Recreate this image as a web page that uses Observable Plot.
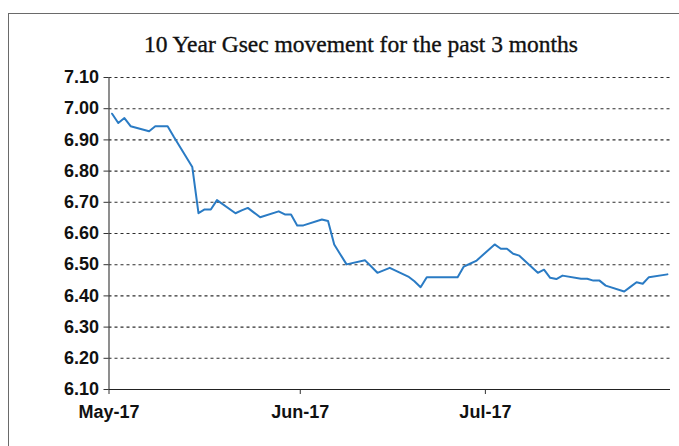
<!DOCTYPE html>
<html>
<head>
<meta charset="utf-8">
<script src="https://cdn.jsdelivr.net/npm/d3@7"></script>
<script src="https://cdn.jsdelivr.net/npm/@observablehq/plot@0.6"></script>
<style>
  html, body { margin: 0; padding: 0; background: #fff; overflow: hidden; }
  #wrap { position: relative; width: 679px; height: 446px; overflow: hidden; background: #fff; }
  #frame { position: absolute; left: 8px; top: 13px; width: 800px; height: 600px;
           border-top: 1px solid #6a6a6a; border-left: 1px solid #6a6a6a; }
  #title { position: absolute; left: 0; width: 722px; top: 33px; text-align: center;
           font-family: "Liberation Serif", "DejaVu Serif", serif; font-size: 23.5px; line-height: 23px;
           color: #111; font-weight: normal; -webkit-text-stroke: 0.35px #111; }
  #chart { position: absolute; left: 0; top: 0; }
</style>
</head>
<body>
<div id="wrap">
  <div id="frame"></div>
  <div id="chart"></div>
  <div id="title">10 Year Gsec movement for the past 3 months</div>
</div>
<script>
// ---- data ----
const dates = [
  "2017-05-02","2017-05-03","2017-05-04","2017-05-05","2017-05-08","2017-05-09","2017-05-10","2017-05-11","2017-05-12",
  "2017-05-15","2017-05-16","2017-05-17","2017-05-18","2017-05-19","2017-05-22","2017-05-23","2017-05-24","2017-05-25","2017-05-26",
  "2017-05-29","2017-05-30","2017-05-31","2017-06-01","2017-06-02","2017-06-05","2017-06-06","2017-06-07","2017-06-08","2017-06-09",
  "2017-06-12","2017-06-13","2017-06-14","2017-06-15","2017-06-16","2017-06-19","2017-06-20","2017-06-21","2017-06-22","2017-06-23",
  "2017-06-27","2017-06-28","2017-06-29","2017-06-30","2017-07-03","2017-07-04","2017-07-05","2017-07-06","2017-07-07",
  "2017-07-10","2017-07-11","2017-07-12","2017-07-13","2017-07-14","2017-07-17","2017-07-18","2017-07-19","2017-07-20","2017-07-21",
  "2017-07-24","2017-07-25","2017-07-26","2017-07-27","2017-07-28","2017-07-31"
];
const yields = [
  6.984,6.954,6.970,6.944,6.928,6.944,6.944,6.944,6.910,
  6.813,6.665,6.677,6.677,6.707,6.665,6.674,6.682,6.667,6.652,
  6.671,6.661,6.661,6.626,6.626,6.645,6.640,6.565,6.533,6.501,
  6.514,6.494,6.474,6.482,6.490,6.462,6.447,6.428,6.460,6.460,
  6.460,6.494,6.503,6.512,6.565,6.551,6.551,6.535,6.529,
  6.474,6.484,6.458,6.454,6.465,6.455,6.455,6.449,6.449,6.433,
  6.414,6.429,6.444,6.439,6.460,6.469
];
const yTickValues = [6.10,6.20,6.30,6.40,6.50,6.60,6.70,6.80,6.90,7.00,7.10];
const xTickDates = ["2017-05-02","2017-06-02","2017-07-02"];
const xTickLabels = ["May-17","Jun-17","Jul-17"];
const xDomainDates = ["2017-05-02","2017-08-01"];

// ---- build table ----
const noon = s => new Date(s + "T12:00:00Z");
const day = s => new Date(s + "T00:00:00Z");
const data = dates.map((d, i) => ({date: noon(d), value: yields[i]}));
const xTicks = xTickDates.map(day);
const labelOf = new Map(xTicks.map((t, i) => [+t, xTickLabels[i]]));
const gridValues = yTickValues.slice(1);

const chart = Plot.plot({
  width: 679,
  height: 446,
  marginLeft: 108.5,
  marginRight: 9,
  marginTop: 77,
  marginBottom: 57,
  style: {fontFamily: "'Liberation Sans', Arial, sans-serif", fontSize: "18px", fontWeight: "bold", color: "#111", background: "transparent"},
  x: {type: "utc", domain: xDomainDates.map(day)},
  y: {domain: [6.10, 7.10]},
  marks: [
    Plot.ruleY(gridValues, {stroke: "#222", strokeOpacity: 0.95, strokeDasharray: "3,3", strokeWidth: 1.1}),
    Plot.axisY({ticks: yTickValues, tickSize: 5, tickPadding: 5, tickFormat: d => d.toFixed(2), label: null, stroke: "#333", strokeOpacity: 1}),
    Plot.axisX({ticks: xTicks, tickSize: 5, tickPadding: 11, tickFormat: d => labelOf.get(+d), label: null, stroke: "#333", strokeOpacity: 1}),
    Plot.ruleY([6.10], {stroke: "#222", strokeWidth: 1.2}),
    Plot.ruleX([day(xDomainDates[0])], {y1: 6.10, y2: 7.10, stroke: "#444", strokeWidth: 1.2}),
    Plot.line(data, {x: "date", y: "value", stroke: "#2a7bc4", strokeWidth: 2})
  ]
});
document.getElementById("chart").appendChild(chart);
</script>
</body>
</html>
